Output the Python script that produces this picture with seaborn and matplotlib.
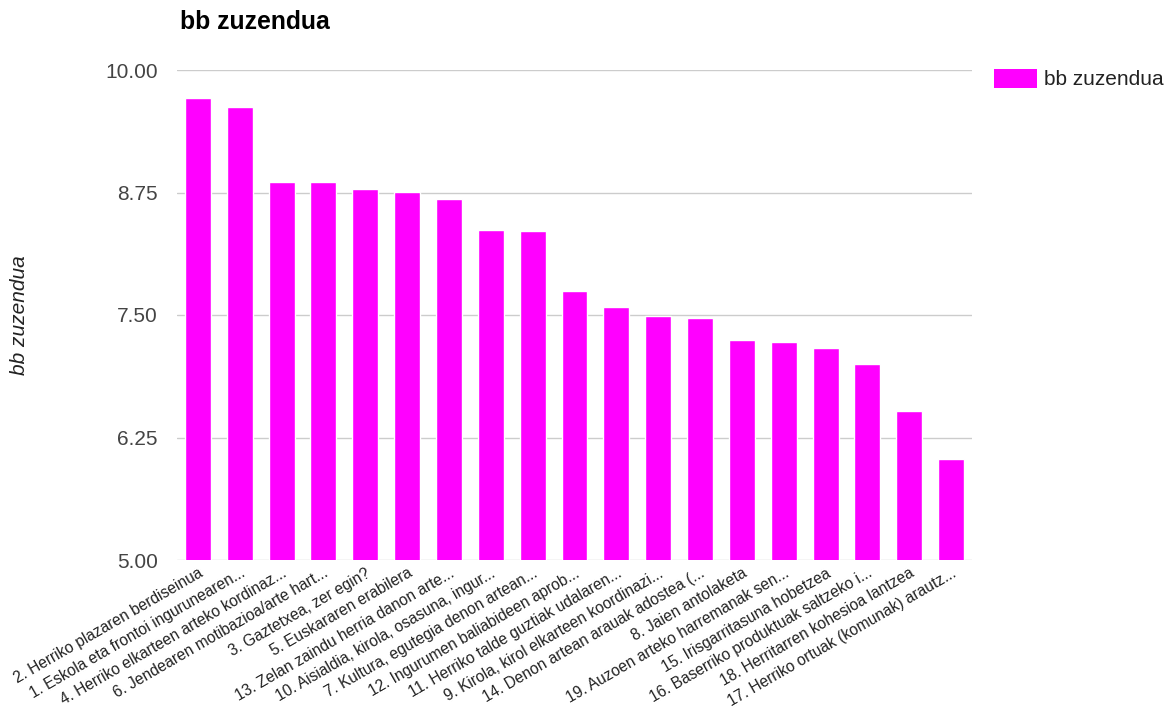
import matplotlib
matplotlib.use("Agg")
import matplotlib.pyplot as plt
import seaborn as sns
import pandas as pd
from matplotlib.ticker import FormatStrFormatter
from matplotlib.patches import Patch

# ---- data ----
categories = [
    "2. Herriko plazaren berdiseinua",
    "1. Eskola eta frontoi ingurunearen...",
    "4. Herriko elkarteen arteko kordinaz...",
    "6. Jendearen motibazioa/arte hart...",
    "3. Gaztetxea, zer egin?",
    "5. Euskararen erabilera",
    "13. Zelan zaindu herria danon arte...",
    "10. Aisialdia, kirola, osasuna, ingur...",
    "7. Kultura, egutegia denon artean...",
    "12. Ingurumen baliabideen aprob...",
    "11. Herriko talde guztiak udalaren...",
    "9. Kirola, kirol elkarteen koordinazi...",
    "14. Denon artean arauak adostea (...",
    "8. Jaien antolaketa",
    "19. Auzoen arteko harremanak sen...",
    "15. Irisgarritasuna hobetzea",
    "16. Baserriko produktuak saltzeko i...",
    "18. Herritarren kohesioa lantzea",
    "17. Herriko ortuak (komunak) arautz...",
]
values = [9.71, 9.62, 8.86, 8.86, 8.79, 8.755, 8.68, 8.37, 8.36, 7.75,
          7.58, 7.49, 7.47, 7.25, 7.22, 7.16, 7.00, 6.52, 6.03]
y_ticks = [5.00, 6.25, 7.50, 8.75, 10.00]
series_name = "bb zuzendua"

BAR_COLOR = "#ff00ff"

df = pd.DataFrame({"label": categories, "value": values})

sns.set_style("white")
plt.rcParams["font.family"] = ["Liberation Sans", "DejaVu Sans"]

fig = plt.figure(figsize=(11.74, 7.09), dpi=100)
ax = fig.add_axes([177 / 1174, 1 - 560 / 709, 795 / 1174, 490 / 709])

sns.barplot(data=df, x="label", y="value", color=BAR_COLOR, width=0.62,
            saturation=1, ax=ax, zorder=3)

ax.set_xlim(-0.5, len(categories) - 0.5)
ax.set_ylim(5, 10)
ax.set_yticks(y_ticks)
ax.yaxis.set_major_formatter(FormatStrFormatter("%.2f"))
ax.grid(axis="y", color="#cccccc", linewidth=1, zorder=0)
ax.grid(axis="x", visible=False)
for s in ax.spines.values():
    s.set_visible(False)

ax.tick_params(axis="y", length=0, pad=14, labelsize=15, labelcolor="#444444")
ax.tick_params(axis="x", length=0, pad=4, labelsize=11.2, labelcolor="#222222")
for lbl in ax.get_xticklabels():
    lbl.set_rotation(30)
    lbl.set_ha("right")
    lbl.set_va("top")
    lbl.set_rotation_mode("anchor")

ax.set_xlabel("")
ax.set_ylabel(series_name, fontsize=15, style="italic", color="#222222", labelpad=0)
ax.yaxis.set_label_coords(-(177 - 29) / 795, 0.5)

fig.text(180 / 1174, 1 - 22 / 709, series_name, fontsize=17.8, fontweight="bold",
         color="black", va="center", ha="left")

handle = Patch(facecolor=BAR_COLOR, edgecolor="none")
fig.legend([handle], [series_name], loc="upper left",
           bbox_to_anchor=(994 / 1174, 1 - 69 / 709), frameon=False,
           fontsize=15, handlelength=2.05, handleheight=1.0,
           handletextpad=0.35, borderpad=0, borderaxespad=0, labelcolor="#222222")

fig.savefig("out.png", dpi=100)
